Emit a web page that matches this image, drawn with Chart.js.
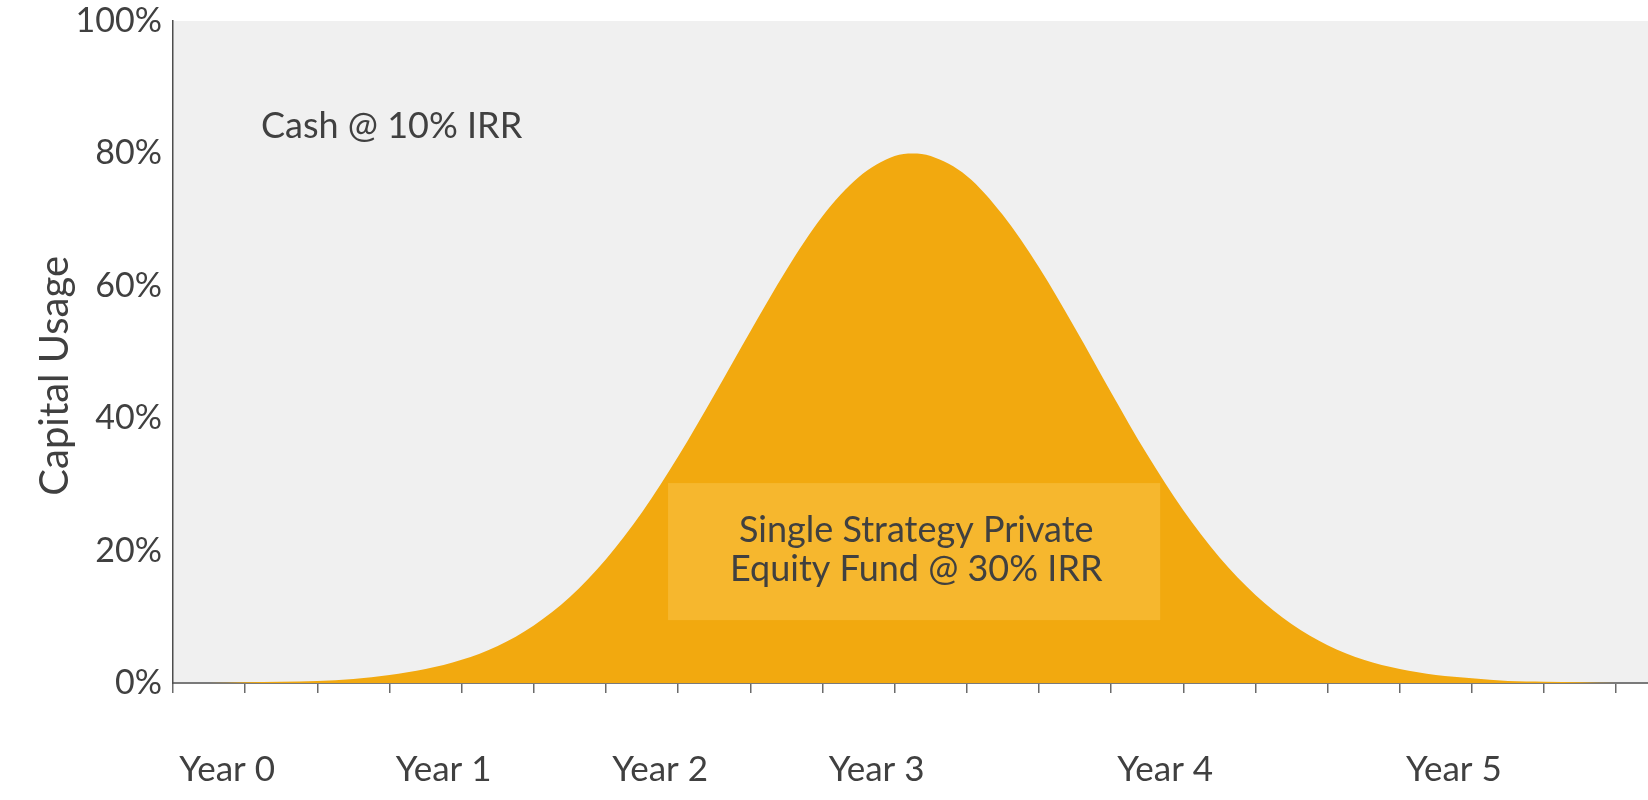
<!DOCTYPE html>
<html>
<head>
<meta charset="utf-8">
<title>Capital Usage</title>
<script src="https://cdn.jsdelivr.net/npm/chart.js@4.4.1/dist/chart.umd.min.js"></script>
<style>
    html, body { margin: 0; padding: 0; background: #ffffff; }
    #wrap { width: 1648px; height: 800px; }
</style>
</head>
<body>
<div id="wrap"><canvas id="capitalChart" width="1648" height="800"></canvas></div>
<script>
// x is measured in axis ticks (one tick = one quarter of the spacing between marks)
const periods = [0, 0.5, 1, 1.5, 2, 2.5, 3, 3.5, 4, 4.5, 5, 5.5, 6, 6.5, 7, 7.5, 8, 8.5, 9, 9.5,
    10, 10.25, 10.5, 11, 11.5, 12, 12.5, 13, 13.5, 14, 14.5, 15, 15.5, 16, 16.5, 17, 17.5, 18,
    18.5, 19, 19.5, 20, 20.44];
const capitalUsage = [0, 0, 0.1, 0.2, 0.3, 0.6, 1.2, 2.1, 3.5, 5.6, 8.7, 13.0, 18.7, 25.8, 34.2, 43.5, 53.1, 62.4, 70.5, 76.4,
    79.6, 80.0, 79.6, 76.6, 70.7, 62.8, 53.6, 43.9, 34.5, 26.1, 19.0, 13.3, 8.9, 5.7, 3.5, 2.1, 1.2, 0.7,
    0.3, 0.2, 0.1, 0, 0];

const axisTicks = [0, 1, 2, 3, 4, 5, 6, 7, 8, 9, 10, 11, 12, 13, 14, 15, 16, 17, 18, 19, 20];
const yearLabels = ['Year 0', 'Year 1', 'Year 2', 'Year 3', 'Year 4', 'Year 5'];
const yearPositions = [0.75, 3.75, 6.75, 9.75, 13.75, 17.75];
const usageTicks = [0, 20, 40, 60, 80, 100];

const X_MAX = 20.44;
const GOLD = '#F2A90F';
const TEXT = '#404040';
const FONT = 'Lato, "Open Sans", sans-serif';

// grey plot background
const plotBackground = {
    id: 'plotBackground',
    beforeDraw(chart) {
        const { ctx, chartArea: a } = chart;
        ctx.save();
        ctx.fillStyle = '#f0f0f0';
        ctx.fillRect(a.left, a.top, a.right - a.left, a.bottom - a.top);
        ctx.restore();
    }
};

// text labels placed in data space, plus the axis title
const chartNotes = {
    id: 'chartNotes',
    afterDatasetsDraw(chart) {
        const { ctx, scales: { x, y } } = chart;
        ctx.save();

        // highlight box behind the fund label
        const bx0 = x.getPixelForValue(6.86), bx1 = x.getPixelForValue(13.68);
        const by0 = y.getPixelForValue(30.2), by1 = y.getPixelForValue(9.5);
        ctx.fillStyle = 'rgba(255, 215, 120, 0.3)';
        ctx.fillRect(bx0, by0, bx1 - bx0, by1 - by0);

        ctx.fillStyle = TEXT;
        ctx.textBaseline = 'middle';
        ctx.textAlign = 'center';
        ctx.font = '36px ' + FONT;
        const cx = x.getPixelForValue(10.3);
        ctx.fillText('Single Strategy Private', cx, y.getPixelForValue(23.1));
        ctx.fillText('Equity Fund @ 30% IRR', cx, y.getPixelForValue(17.1));

        ctx.textAlign = 'left';
        ctx.font = '36px ' + FONT;
        ctx.fillText('Cash @ 10% IRR', x.getPixelForValue(1.22), y.getPixelForValue(84.1));

        // y axis title, rotated
        ctx.translate(y.left + 55, y.getPixelForValue(46.4));
        ctx.rotate(-Math.PI / 2);
        ctx.textAlign = 'center';
        ctx.font = '40px ' + FONT;
        ctx.fillText('Capital Usage', 0, 0);
        ctx.restore();
    }
};

new Chart(document.getElementById('capitalChart'), {
    type: 'line',
    data: {
        datasets: [{
            label: 'Capital Usage',
            data: periods.map((p, i) => ({ x: p, y: capitalUsage[i] })),
            backgroundColor: GOLD,
            borderWidth: 0,
            pointRadius: 0,
            fill: 'origin',
            cubicInterpolationMode: 'monotone'
        }]
    },
    options: {
        responsive: false,
        animation: false,
        events: [],
        layout: { padding: { top: 21, left: 0, right: 0, bottom: 0 } },
        plugins: {
            legend: { display: false },
            tooltip: { enabled: false }
        },
        scales: {
            x: {
                type: 'linear',
                position: 'bottom',
                weight: 0,
                min: 0,
                max: X_MAX,
                afterBuildTicks: s => { s.ticks = axisTicks.map(v => ({ value: v })); },
                afterFit: s => { s.height = 10; },
                grid: { drawOnChartArea: false, drawTicks: true, tickLength: 10, color: '#6b6b6b', lineWidth: 1.5 },
                border: { display: true, color: '#7a7a7a', width: 2 },
                ticks: { display: false }
            },
            years: {
                type: 'linear',
                position: 'bottom',
                weight: 1,
                min: 0,
                max: X_MAX,
                afterBuildTicks: s => { s.ticks = yearPositions.map(v => ({ value: v })); },
                afterFit: s => { s.height = 107; },
                grid: { display: false, drawTicks: false },
                border: { display: false },
                ticks: {
                    autoSkip: false,
                    maxRotation: 0,
                    padding: 56,
                    color: TEXT,
                    font: { family: FONT, size: 35 },
                    callback: (v, i) => yearLabels[i]
                }
            },
            y: {
                min: 0,
                max: 100,
                afterBuildTicks: s => { s.ticks = usageTicks.map(v => ({ value: v })); },
                afterFit: s => {
                    s.width = 173;
                    s.paddingTop = 0;
                    s.paddingBottom = 0;
                },
                grid: { display: false, drawTicks: false, tickLength: 0 },
                border: { display: true, color: '#4d4d4d', width: 1.5 },
                ticks: {
                    padding: 11,
                    color: TEXT,
                    font: { family: FONT, size: 34 },
                    callback: v => v + '%'
                }
            }
        }
    },
    plugins: [plotBackground, chartNotes]
});
</script>
</body>
</html>
